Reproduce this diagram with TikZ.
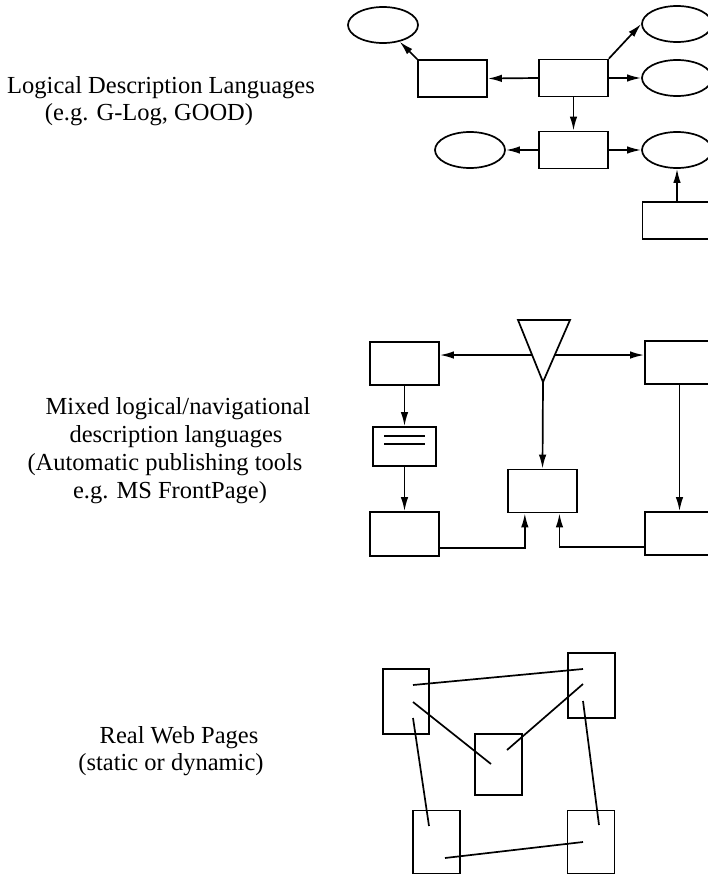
\documentclass[tikz,border=0pt]{standalone}
\usepackage{fontspec}
\setmainfont{Liberation Serif}
\usetikzlibrary{arrows.meta,shapes.geometric,calc}

\tikzset{
  every picture/.style={x=1pt,y=-1pt},
  line/.style={line width=1.7pt},
  arr/.style={line/.try, line width=1.7pt, -{Latex[length=14pt,width=7.5pt]}},
  box/.style={draw, line width=1.7pt, rectangle, inner sep=0pt, minimum width=69pt, minimum height=37pt},
  oval/.style={draw, line width=1.7pt, ellipse, inner sep=0pt, minimum width=70pt, minimum height=36pt},
  page/.style={draw, line width=1.7pt, rectangle, inner sep=0pt, minimum width=47pt, minimum height=64pt},
  caption/.style={font=\fontsize{24.5pt}{28pt}\selectfont, anchor=base, inner sep=0pt}
}

\begin{document}
\begin{tikzpicture}
\useasboundingbox (0,0) rectangle (708,875);
\clip (0,0) rectangle (708,875);

% ---------- captions ----------
\node[caption] (c1a) at (161,93)  {Logical Description Languages};
\node[caption] (c1b) at (149,120) {(e.g. G-Log, GOOD)};

\node[caption] (c2a) at (178,414) {Mixed logical/navigational};
\node[caption] (c2b) at (176,442) {description languages};
\node[caption] (c2c) at (165,470) {(Automatic publishing tools};
\node[caption] (c2d) at (170,498) {e.g. MS FrontPage)};

\node[caption] (c3a) at (179,743) {Real Web Pages};
\node[caption] (c3b) at (171,770) {(static or dynamic)};

% ---------- logical schema ----------
\node[oval] (eTL) at (383,25) {};
\node[box]  (rA)  at (452.5,78.5) {};
\node[box]  (rB)  at (573.5,78) {};
\node[oval] (eTR) at (677,24) {};
\node[oval] (eR2) at (677,78) {};
\node[box]  (rC)  at (573.5,150) {};
\node[oval] (eL3) at (470,150) {};
\node[oval] (eR3) at (677,150) {};
\node[box]  (rD)  at (677,220.5) {};

\draw[arr] (rB.west) -- (rA.east);
\draw[arr] (rA.north west) -- (eTL.-45);
\draw[arr] (rB.north east) -- (eTR.west);
\draw[arr] (rB.east) -- (eR2.west);
\draw[arr] (rB.south) -- (rC.north);
\draw[arr] (rC.west) -- (eL3.east);
\draw[arr] (rC.east) -- (eR3.west);
\draw[arr] (rD.north) -- (eR3.south);

% ---------- mixed schema ----------
\coordinate (tL) at (518,320);
\coordinate (tR) at (570,320);
\coordinate (tA) at (543,382);
\draw[line, line join=miter] (tL) -- (tR) -- (tA) -- cycle;
\coordinate (tl) at ($(tL)!0.565!(tA)$);
\coordinate (tr) at ($(tR)!0.565!(tA)$);

\node[box, minimum height=43pt] (M1) at (404.5,363.5) {};
\node[box, minimum height=43pt] (M2) at (679.5,362.5) {};
\node[box, minimum width=63pt, minimum height=39pt] (T) at (404.5,446.5) {};
\draw[line] (384,436) -- (425,436);
\draw[line] (384,444) -- (425,444);
\node[box, minimum height=43pt] (M3) at (542.5,491) {};
\node[box, minimum height=44pt] (M4) at (404.5,534) {};
\node[box, minimum height=43pt] (M5) at (679.5,533.5) {};

\draw[arr] (tl) -- (tl -| M1.east);
\draw[arr] (tr) -- (tr -| M2.west);
\draw[arr] (tA) -- (M3.north);
\draw[arr] (M1.south) -- (T.north);
\draw[arr] (T.south) -- (M4.north);
\draw[arr] (M2.south) -- (M5.north);
\coordinate (m4o) at ($(M4.south east)!0.2!(M4.north east)$);
\coordinate (m5o) at ($(M5.south west)!0.2!(M5.north west)$);
\coordinate (m3l) at ($(M3.south west)!0.25!(M3.south east)$);
\coordinate (m3r) at ($(M3.south west)!0.74!(M3.south east)$);
\draw[arr] (m4o) -| (m3l);
\draw[arr] (m5o) -| (m3r);

% ---------- web pages ----------
\node[page, minimum width=46pt, minimum height=65pt] (P1) at (406,701.5) {};
\node[page, minimum height=65pt] (P2) at (591.5,685.5) {};
\node[page, minimum height=61pt] (P3) at (498.5,764.5) {};
\node[page, minimum height=63pt] (P4) at (436.5,842) {};
\node[page, minimum height=63pt] (P5) at (591,842) {};

\coordinate (a1) at (413,685);  \coordinate (b1) at (583,669);
\coordinate (a2) at (413,702);  \coordinate (b2) at (491,764);
\coordinate (a3) at (507,750);  \coordinate (b3) at (583,684);
\coordinate (a4) at (413,718);  \coordinate (b4) at (429,826);
\coordinate (a5) at (583,701);  \coordinate (b5) at (599,825);
\coordinate (a6) at (445,858);  \coordinate (b6) at (583,842);
\draw[line] (a1) -- (b1);
\draw[line] (a2) -- (b2);
\draw[line] (a3) -- (b3);
\draw[line] (a4) -- (b4);
\draw[line] (a5) -- (b5);
\draw[line] (a6) -- (b6);
\end{tikzpicture}
\end{document}
